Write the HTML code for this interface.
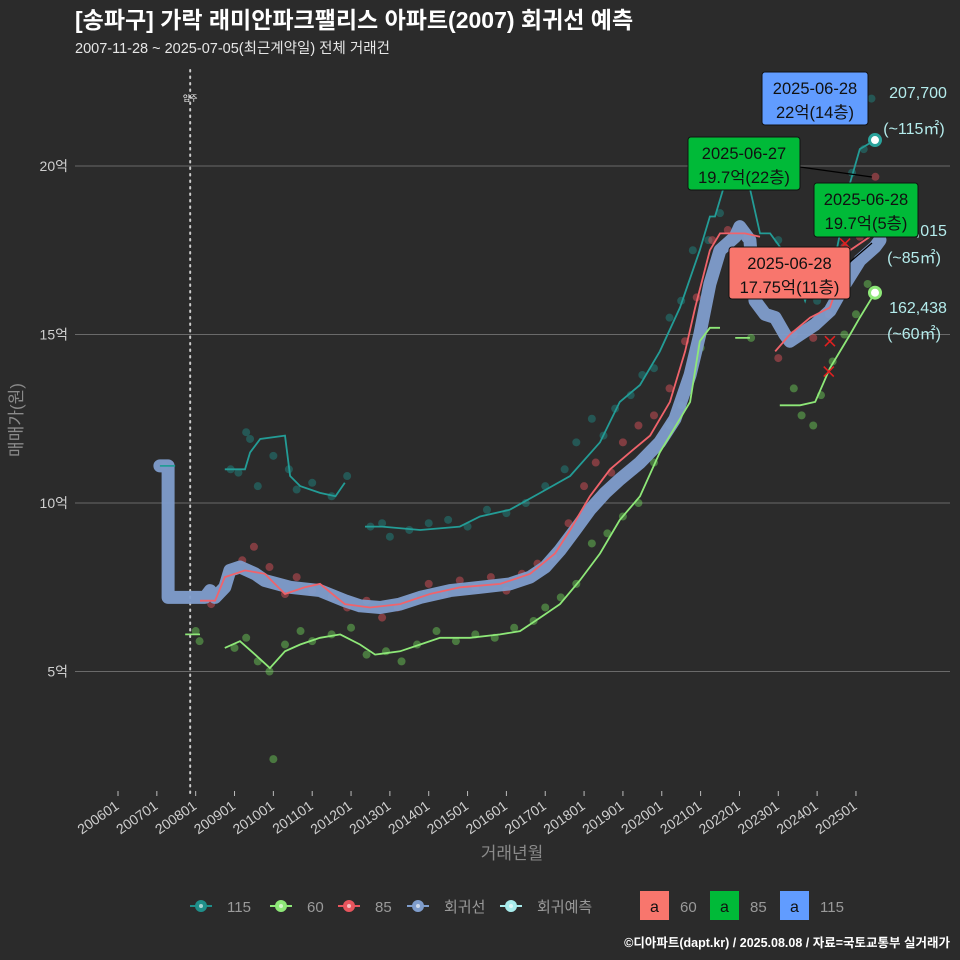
<!DOCTYPE html>
<html><head><meta charset="utf-8">
<style>
html,body{margin:0;padding:0;background:#2b2b2b;}
svg{display:block;font-family:"Liberation Sans","Noto Sans CJK KR",sans-serif;}
</style></head>
<body>
<svg id="chart" width="960" height="960" viewBox="0 0 960 960" xmlns="http://www.w3.org/2000/svg">
<rect width="960" height="960" fill="#2b2b2b"/>
<text x="75" y="28" font-size="23" font-weight="bold" fill="#ffffff">[송파구] 가락 래미안파크팰리스 아파트(2007) 회귀선 예측</text>
<text x="75" y="53" font-size="14.5" fill="#e6e6e6">2007-11-28 ~ 2025-07-05(최근계약일) 전체 거래건</text>
<g id="grid"></g>
<g id="yaxis"></g>
<g id="xaxis"></g>
<g id="marks"></g>
<text transform="translate(22,420) rotate(-90)" text-anchor="middle" font-size="17" fill="#8a8a8a">매매가(원)</text>
<text x="512" y="859" text-anchor="middle" font-size="17" fill="#8a8a8a">거래년월</text>
<g id="legend"></g>
<text x="950" y="947" text-anchor="end" font-size="12.5" font-weight="bold" fill="#ffffff">©디아파트(dapt.kr) / 2025.08.08 / 자료=국토교통부 실거래가</text>
</svg>
<script>
const yTicks = [5, 10, 15, 20];
const yTickLabels = ["5억", "10억", "15억", "20억"];
const xTickYears = [2006,2007,2008,2009,2010,2011,2012,2013,2014,2015,2016,2017,2018,2019,2020,2021,2022,2023,2024,2025];
const xTickLabels = ["200601","200701","200801","200901","201001","201101","201201","201301","201401","201501","201601","201701","201801","201901","202001","202101","202201","202301","202401","202501"];
const moveInYear = 2007.91;

const regYears = [2007.08,2007.29,2007.29,2008.24,2008.37,2008.50,2008.75,2008.88,2009.14,2009.53,2009.78,2010.43,2011.20,2011.84,2012.23,2012.75,2013.26,2013.78,2014.55,2015.32,2016.09,2016.61,2017.0,2017.38,2017.77,2018.15,2018.54,2018.92,2019.44,2019.95,2020.34,2020.73,2020.98,2021.24,2021.50,2021.89,2022.01,2022.27,2022.40,2022.66,2022.92,2023.17,2023.30,2023.56,2023.95,2024.33,2024.72,2025.10,2025.49,2025.62];
const regValues = [11.1,11.1,7.2,7.2,7.4,7.2,7.5,8.0,8.1,7.9,7.7,7.5,7.4,7.1,6.95,6.9,7.0,7.2,7.4,7.5,7.6,7.8,8.1,8.6,9.2,9.8,10.3,10.7,11.2,11.8,12.5,13.8,15.0,16.5,17.5,17.9,18.2,17.8,16.0,15.6,15.5,15.0,14.8,15.0,15.3,15.7,16.5,17.2,17.6,17.8];

const s115Years = [2007.08,2007.47,null,2008.75,2009.27,2009.40,2009.66,2010.30,2010.43,2010.69,2011.20,2011.60,2011.84,null,2012.36,2012.80,2013.78,2014.80,2015.32,2016.09,2016.87,2017.64,2018.41,2018.92,2019.44,2019.95,2020.47,2020.98,2021.24,2021.37,2021.76,2022.14,2022.53,2022.79,2023.30,2023.69,2023.82,2024.33,2024.59,2024.85,2025.10,2025.49];
const s115Values = [11.1,11.1,null,11.0,11.0,11.5,11.9,12.0,10.8,10.5,10.3,10.2,10.6,null,9.3,9.3,9.2,9.3,9.6,9.8,10.3,10.8,11.8,13.0,13.5,14.5,15.8,17.5,18.5,18.5,20.0,20.0,18.0,18.0,17.2,16.0,16.5,16.5,18.0,19.5,20.5,20.77];

const s60Years = [2007.73,2008.11,null,2008.75,2009.14,2009.53,2009.91,2010.30,2010.69,2011.20,2011.72,2012.23,2012.62,2013.26,2013.78,2014.29,2015.06,2015.84,2016.35,2016.87,2017.38,2017.89,2018.41,2018.92,2019.44,2019.95,2020.47,2020.73,2020.98,2021.24,2021.50,null,2021.89,2022.27,null,2023.04,2023.56,2023.95,2024.33,2024.59,2024.85,2025.10,2025.49];
const s60Values = [6.1,6.1,null,5.7,5.9,5.5,5.1,5.6,5.8,6.0,6.1,5.8,5.5,5.6,5.8,6.0,6.0,6.1,6.2,6.6,7.0,7.7,8.5,9.5,10.2,11.5,12.5,13.0,14.8,15.2,15.2,null,14.9,14.9,null,12.9,12.9,13.0,14.0,14.5,15.0,15.5,16.24];

const s85Years = [2008.11,2008.50,2008.75,2009.27,2009.78,2010.30,2010.81,2011.20,2011.84,2012.49,2013.26,2014.03,2014.81,2015.84,2016.61,2017.25,2017.64,2018.15,2018.67,2019.18,2019.70,2020.21,2020.60,2020.86,2021.24,2021.50,2022.14,2022.53,null,2022.92,2023.30,2023.82,2024.33,2024.85,2025.36];
const s85Values = [7.1,7.1,7.8,8.0,7.9,7.3,7.5,7.6,7.0,6.9,7.0,7.3,7.5,7.6,7.9,8.5,9.2,10.2,11.0,11.5,12.0,13.0,14.5,15.8,17.5,18.0,18.0,17.9,null,14.5,15.0,15.5,15.8,17.5,17.9];

const pts115Years = [2007.2,2008.9,2009.1,2009.3,2009.4,2009.6,2010.0,2010.4,2010.6,2011.0,2011.5,2011.9,2012.5,2012.8,2013.0,2013.5,2014.0,2014.5,2015.0,2015.5,2016.0,2016.5,2017.0,2017.5,2017.8,2018.2,2018.5,2018.8,2019.2,2019.5,2019.8,2020.2,2020.5,2020.8,2021.2,2021.5,2021.8,2022.3,2023.0,2023.5,2024.0,2024.5,2024.9,2025.2,2025.4];
const pts115Values = [11.1,11.0,10.9,12.1,11.9,10.5,11.4,11.0,10.4,10.6,10.2,10.8,9.3,9.4,9.0,9.2,9.4,9.5,9.3,9.8,9.7,10.0,10.5,11.0,11.8,12.5,12.0,12.8,13.2,13.8,14.0,15.5,16.0,17.5,17.8,18.6,20.0,19.5,17.8,17.2,16.0,18.0,19.8,20.5,22.0];

const pts60Years = [2008.0,2008.1,2009.0,2009.3,2009.6,2009.9,2010.0,2010.3,2010.7,2011.0,2011.5,2012.0,2012.4,2012.9,2013.3,2013.7,2014.2,2014.7,2015.2,2015.7,2016.2,2016.7,2017.0,2017.4,2017.8,2018.2,2018.6,2019.0,2019.4,2019.8,2020.2,2020.5,2021.0,2022.3,2023.4,2023.6,2023.9,2024.1,2024.4,2024.7,2025.0,2025.3];
const pts60Values = [6.2,5.9,5.7,6.0,5.3,5.0,2.4,5.8,6.2,5.9,6.1,6.3,5.5,5.6,5.3,5.8,6.2,5.9,6.1,6.0,6.3,6.5,6.9,7.2,7.6,8.8,9.1,9.6,10.0,11.2,12.3,12.9,14.6,14.9,13.4,12.6,12.3,13.2,14.2,15.0,15.6,16.5];

const pts85Years = [2008.4,2008.8,2009.2,2009.5,2009.9,2010.3,2010.6,2011.0,2011.5,2011.9,2012.4,2012.8,2013.2,2013.6,2014.0,2014.4,2014.8,2015.2,2015.6,2016.0,2016.4,2016.8,2017.2,2017.6,2018.0,2018.3,2018.7,2019.0,2019.4,2019.8,2020.2,2020.6,2020.9,2021.3,2021.7,2022.2,2023.0,2023.4,2023.9,2024.3,2024.7,2025.1,2025.5];
const pts85Values = [7.0,7.9,8.3,8.7,8.1,7.3,7.8,7.4,7.2,6.9,7.1,6.6,6.9,7.2,7.6,7.3,7.7,7.5,7.8,7.4,7.9,8.2,8.4,9.4,10.5,11.2,10.9,11.8,12.3,12.6,13.4,14.8,16.1,17.8,18.1,17.9,14.3,15.0,14.9,15.6,17.6,17.9,19.68];

const predYears = [2025.49, 2025.49];
const predValues = [20.77, 16.24];
const predLabels = ["207,700", "162,438"];
const predAreas = ["(~115㎡)", "(~60㎡)"];

const NS = "http://www.w3.org/2000/svg";
const X0 = 118, XPY = 38.84, Y10 = 503, YPU = 33.7;
function xs(y){ return X0 + (y - 2006) * XPY; }
function ys(v){ return Y10 - (v - 10) * YPU; }
function mk(tag, attrs, parent){ const e = document.createElementNS(NS, tag); for (const k in attrs) e.setAttribute(k, attrs[k]); parent.appendChild(e); return e; }
function pathFrom(yrs, vals){ let d = "", pen = false; for (let i = 0; i < yrs.length; i++){ if (yrs[i] === null){ pen = false; continue; } d += (pen ? "L" : "M") + xs(yrs[i]).toFixed(1) + "," + ys(vals[i]).toFixed(1); pen = true; } return d; }

const grid = document.getElementById("grid");
const yaxis = document.getElementById("yaxis");
yTicks.forEach((t, i) => {
  const l = mk("line", {x1: 75, x2: 950, y1: ys(t), y2: ys(t), stroke: "#6a6a6a", "stroke-width": 1}, grid);
  
  
  const tx = mk("text", {x: 68, y: ys(t) + 5, "text-anchor": "end", "font-size": 14, fill: "#cfcfcf"}, yaxis);
  tx.textContent = yTickLabels[i];
  
  
});
const xaxis = document.getElementById("xaxis");
xTickYears.forEach((t, i) => {
  const x = xs(t);
  const tk = mk("line", {x1: x, x2: x, y1: 791, y2: 796, stroke: "#bbbbbb", "stroke-width": 1}, xaxis);
  
  
  const tx = mk("text", {x: x + 2, y: 808, "text-anchor": "end", "font-size": 14, fill: "#cfcfcf", transform: "rotate(-35 " + (x + 2) + " 808)"}, xaxis);
  tx.textContent = xTickLabels[i];
  
  
});

const marks = document.getElementById("marks");
const mv = mk("line", {x1: xs(moveInYear) - 2, x2: xs(moveInYear) - 2, y1: 70, y2: 795, stroke: "#cccccc", "stroke-width": 2, "stroke-dasharray": "1.5 5", "stroke-linecap": "round"}, marks);


const mvt = mk("text", {x: xs(moveInYear) - 2, y: 101, "text-anchor": "middle", "font-size": 8, fill: "#ffffff"}, marks);
mvt.textContent = "입주";



function dots(yrs, vals, color, name){
  yrs.forEach((y, i) => {
    const c = mk("circle", {cx: xs(y), cy: ys(vals[i]), r: 4, fill: color, "fill-opacity": 0.45}, marks);
    
    
  });
}
dots(pts115Years, pts115Values, "#1f8f8a", "point-115");
dots(pts60Years, pts60Values, "#72d65a", "point-60");
dots(pts85Years, pts85Values, "#e8555d", "point-85");

const reg = mk("path", {d: pathFrom(regYears, regValues), fill: "none", stroke: "#7f9dcc", "stroke-width": 13, "stroke-linejoin": "round", "stroke-linecap": "round", "stroke-opacity": 0.95}, marks);


const l115 = mk("path", {d: pathFrom(s115Years, s115Values), fill: "none", stroke: "#239c96", "stroke-width": 1.8}, marks);


const l60 = mk("path", {d: pathFrom(s60Years, s60Values), fill: "none", stroke: "#8ee878", "stroke-width": 1.8}, marks);


const l85 = mk("path", {d: pathFrom(s85Years, s85Values), fill: "none", stroke: "#f0636b", "stroke-width": 1.8}, marks);



[[2024.72,17.7],[2024.33,14.8],[2024.30,13.9]].forEach(p => {
  const x = xs(p[0]), y = ys(p[1]);
  const xm = mk("path", {d: `M${x-5},${y-5}L${x+5},${y+5}M${x-5},${y+5}L${x+5},${y-5}`, stroke: "#e02020", "stroke-width": 1.6}, marks);
  
  
});

const predColors = ["#2aa39c", "#8ee878"];
predYears.forEach((y, i) => {
  const c = mk("circle", {cx: xs(y), cy: ys(predValues[i]), r: 5.5, fill: "#ffffff", stroke: predColors[i], "stroke-width": 3}, marks);
  
  
});
const predTextY = [[98, 134], [313, 339]];
predLabels.forEach((lab, i) => {
  const t1 = mk("text", {x: 918, y: predTextY[i][0], "text-anchor": "middle", "font-size": 16, fill: "#b4ecec"}, marks);
  t1.textContent = lab;
  
  
  const t2 = mk("text", {x: 914, y: predTextY[i][1], "text-anchor": "middle", "font-size": 16, fill: "#b4ecec"}, marks);
  t2.textContent = predAreas[i];
  
  
});
const t85a = mk("text", {x: 918, y: 236, "text-anchor": "middle", "font-size": 16, fill: "#b4ecec"}, marks);
t85a.textContent = "178,015";


const t85b = mk("text", {x: 914, y: 263, "text-anchor": "middle", "font-size": 16, fill: "#b4ecec"}, marks);
t85b.textContent = "(~85㎡)";



const ln1 = mk("line", {x1: 800, y1: 167, x2: 872, y2: 177, stroke: "#000", "stroke-width": 1.2}, marks);


const ln2 = mk("line", {x1: 850, y1: 262, x2: 872, y2: 243, stroke: "#000", "stroke-width": 1.2}, marks);



function callout(x, y, w, h, fill, l1, l2){
  const g = mk("g", {}, marks);
  
  
  mk("rect", {x: x, y: y, width: w, height: h, rx: 3, fill: fill, stroke: "#111", "stroke-width": 1}, g);
  const a = mk("text", {x: x + w / 2, y: y + 22, "text-anchor": "middle", "font-size": 16.5, fill: "#111"}, g);
  a.textContent = l1;
  const b = mk("text", {x: x + w / 2, y: y + 46, "text-anchor": "middle", "font-size": 16.5, fill: "#111"}, g);
  b.textContent = l2;
}
callout(762, 72, 106, 53, "#619cff", "2025-06-28", "22억(14층)");
callout(688, 137, 112, 53, "#00ba38", "2025-06-27", "19.7억(22층)");
callout(814, 183, 104, 54, "#00ba38", "2025-06-28", "19.7억(5층)");
callout(729, 247, 121, 52, "#f8766d", "2025-06-28", "17.75억(11층)");

const legend = document.getElementById("legend");
const legItems = [["#1f8f8a", "115", 201], ["#8ee878", "60", 281], ["#e8555d", "85", 349], ["#7f9dcc", "회귀선", 418], ["#a8ecec", "회귀예측", 511]];
legItems.forEach(it => {
  const g = mk("g", {}, legend);
  
  
  mk("line", {x1: it[2] - 11, x2: it[2] + 11, y1: 906, y2: 906, stroke: it[0], "stroke-width": 2}, g);
  mk("circle", {cx: it[2], cy: 906, r: 6, fill: it[0]}, g);
  mk("circle", {cx: it[2], cy: 906, r: 2, fill: "#ffffff", "fill-opacity": 0.6}, g);
  const t = mk("text", {x: it[2] + 26, y: 912, "font-size": 15, fill: "#9a9a9a"}, g);
  t.textContent = it[1];
});
const boxItems = [["#f8766d", "60", 640], ["#00ba38", "85", 710], ["#619cff", "115", 780]];
boxItems.forEach(it => {
  const g = mk("g", {}, legend);
  
  
  mk("rect", {x: it[2], y: 891, width: 29, height: 29, fill: it[0]}, g);
  const a = mk("text", {x: it[2] + 14.5, y: 912, "text-anchor": "middle", "font-size": 16, fill: "#111"}, g);
  a.textContent = "a";
  const t = mk("text", {x: it[2] + 40, y: 912, "font-size": 15, fill: "#9a9a9a"}, g);
  t.textContent = it[1];
});
</script>
</body></html>
